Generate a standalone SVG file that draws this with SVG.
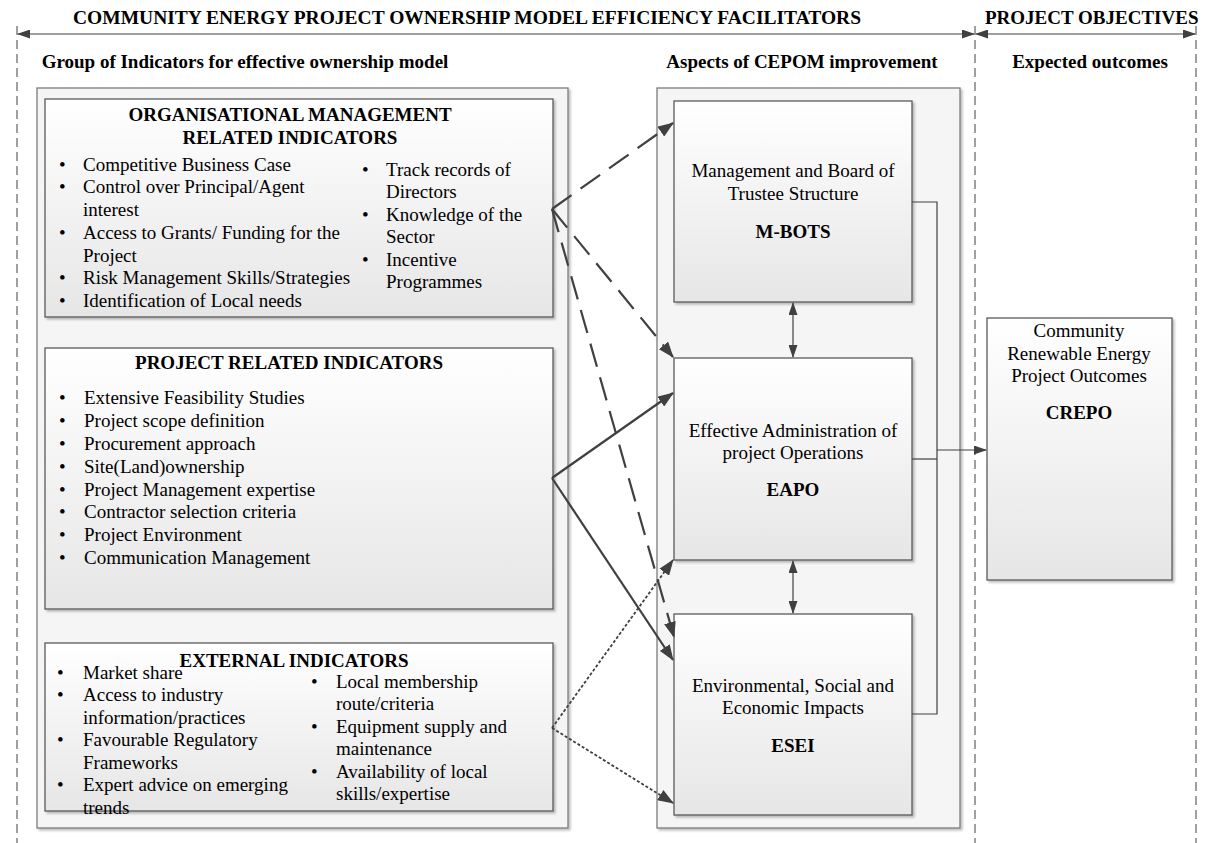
<svg xmlns="http://www.w3.org/2000/svg" width="1212" height="843" viewBox="0 0 1212 843">
<style>
text{font-family:"Liberation Serif","Times New Roman",serif;fill:#000}
.hdr{font-size:19px;font-weight:bold}
.b{font-size:19px;font-weight:bold}
.t{font-size:19px}
.c{text-anchor:middle}
.cont{fill:#f5f5f5;stroke:#7a7a7a;stroke-width:1.3}
.box{fill:url(#g);stroke:#5a5a5a;stroke-width:1.3}
.dv{stroke:#404040;stroke-width:1;stroke-dasharray:9,5;fill:none}
.thin{stroke:#404040;stroke-width:1.2;fill:none}
.dash{stroke:#404040;stroke-width:2.2;stroke-dasharray:24,11;fill:none}
.sol{stroke:#404040;stroke-width:2.2;fill:none}
.dot{stroke:#404040;stroke-width:1.8;stroke-dasharray:3,2;fill:none}
</style>
<defs>
<linearGradient id="g" x1="0" y1="0" x2="0" y2="1">
<stop offset="0" stop-color="#ffffff"/>
<stop offset="1" stop-color="#e6e6e6"/>
</linearGradient>
<filter id="sh" x="-5%" y="-5%" width="112%" height="112%">
<feDropShadow dx="2" dy="2" stdDeviation="1.2" flood-color="#000" flood-opacity="0.25"/>
</filter>
<marker id="ah" markerUnits="userSpaceOnUse" markerWidth="16" markerHeight="12" refX="15" refY="6" orient="auto-start-reverse">
<path d="M0,0 L16,6 L0,12 z" fill="#404040"/>
</marker>
<marker id="as" markerUnits="userSpaceOnUse" markerWidth="13" markerHeight="9" refX="12" refY="4.5" orient="auto-start-reverse">
<path d="M0,0 L13,4.5 L0,9 z" fill="#404040"/>
</marker>
</defs>

<g id="frame">
<line class="dv" x1="17" y1="26" x2="17" y2="843"/>
<line class="dv" x1="975" y1="26" x2="975" y2="843"/>
<line class="dv" x1="1196" y1="26" x2="1196" y2="843"/>
<line class="thin" x1="18" y1="34" x2="974" y2="34" marker-start="url(#as)" marker-end="url(#as)"/>
<line class="thin" x1="976" y1="34" x2="1195" y2="34" marker-start="url(#as)" marker-end="url(#as)"/>
<text class="hdr" x="73" y="24" style="font-size:19.5px">COMMUNITY ENERGY PROJECT OWNERSHIP MODEL EFFICIENCY FACILITATORS</text>
<text class="hdr" x="985" y="24">PROJECT OBJECTIVES</text>
<text class="b c" x="245" y="68">Group of Indicators for effective ownership model</text>
<text class="b c" x="802" y="68">Aspects of CEPOM improvement</text>
<text class="b c" x="1090" y="68">Expected outcomes</text>
</g>

<g id="left-container">
<rect class="cont" x="37" y="88" width="531" height="740" filter="url(#sh)"/>
</g>
<g id="mid-container">
<rect class="cont" x="657" y="88" width="303" height="740" filter="url(#sh)"/>
</g>

<g id="org-indicators">
<rect class="box" x="45" y="99" width="508" height="218" filter="url(#sh)"/>
<text class="b c" x="290" y="121">ORGANISATIONAL MANAGEMENT</text>
<text class="b c" x="290" y="144">RELATED INDICATORS</text>
<g class="t">
<text x="59" y="171">•</text><text x="83" y="171">Competitive Business Case</text>
<text x="59" y="193">•</text><text x="83" y="193">Control over Principal/Agent</text>
<text x="83" y="216">interest</text>
<text x="59" y="239">•</text><text x="83" y="239">Access to Grants/ Funding for the</text>
<text x="83" y="262">Project</text>
<text x="59" y="284">•</text><text x="83" y="284">Risk Management Skills/Strategies</text>
<text x="59" y="307">•</text><text x="83" y="307">Identification of Local needs</text>
<text x="362" y="176">•</text><text x="386" y="176">Track records of</text>
<text x="386" y="198">Directors</text>
<text x="362" y="221">•</text><text x="386" y="221">Knowledge of the</text>
<text x="386" y="243">Sector</text>
<text x="362" y="266">•</text><text x="386" y="266">Incentive</text>
<text x="386" y="288">Programmes</text>
</g>
</g>

<g id="project-indicators">
<rect class="box" x="45" y="348" width="508" height="261" filter="url(#sh)"/>
<text class="b c" x="289" y="369">PROJECT RELATED INDICATORS</text>
<g class="t">
<text x="59" y="404">•</text><text x="84" y="404">Extensive Feasibility Studies</text>
<text x="59" y="427">•</text><text x="84" y="427">Project scope definition</text>
<text x="59" y="450">•</text><text x="84" y="450">Procurement approach</text>
<text x="59" y="473">•</text><text x="84" y="473">Site(Land)ownership</text>
<text x="59" y="496">•</text><text x="84" y="496">Project Management expertise</text>
<text x="59" y="518">•</text><text x="84" y="518">Contractor selection criteria</text>
<text x="59" y="541">•</text><text x="84" y="541">Project Environment</text>
<text x="59" y="564">•</text><text x="84" y="564">Communication Management</text>
</g>
</g>

<g id="external-indicators">
<rect class="box" x="45" y="643" width="508" height="168" filter="url(#sh)"/>
<text class="b c" x="294" y="667">EXTERNAL INDICATORS</text>
<g class="t">
<text x="57" y="679">•</text><text x="83" y="679">Market share</text>
<text x="57" y="701">•</text><text x="83" y="701">Access to industry</text>
<text x="83" y="724">information/practices</text>
<text x="57" y="746">•</text><text x="83" y="746">Favourable Regulatory</text>
<text x="83" y="769">Frameworks</text>
<text x="57" y="791">•</text><text x="83" y="791">Expert advice on emerging</text>
<text x="83" y="814">trends</text>
<text x="311" y="688">•</text><text x="336" y="688">Local membership</text>
<text x="336" y="710">route/criteria</text>
<text x="311" y="733">•</text><text x="336" y="733">Equipment supply and</text>
<text x="336" y="755">maintenance</text>
<text x="311" y="778">•</text><text x="336" y="778">Availability of local</text>
<text x="336" y="800">skills/expertise</text>
</g>
</g>

<g id="mbots">
<rect class="box" x="674" y="101" width="238" height="201" filter="url(#sh)"/>
<text class="t c" x="793" y="177">Management and Board of</text>
<text class="t c" x="793" y="200">Trustee Structure</text>
<text class="b c" x="793" y="238">M-BOTS</text>
</g>
<g id="eapo">
<rect class="box" x="674" y="358" width="238" height="202" filter="url(#sh)"/>
<text class="t c" x="793" y="437">Effective Administration of</text>
<text class="t c" x="793" y="459">project Operations</text>
<text class="b c" x="793" y="496">EAPO</text>
</g>
<g id="esei">
<rect class="box" x="674" y="614" width="238" height="201" filter="url(#sh)"/>
<text class="t c" x="793" y="692">Environmental, Social and</text>
<text class="t c" x="793" y="714">Economic Impacts</text>
<text class="b c" x="793" y="752">ESEI</text>
</g>
<g id="crepo">
<rect class="box" x="987" y="318" width="185" height="262" filter="url(#sh)"/>
<text class="t c" x="1079" y="337">Community</text>
<text class="t c" x="1079" y="360">Renewable Energy</text>
<text class="t c" x="1079" y="382">Project Outcomes</text>
<text class="b c" x="1079" y="419">CREPO</text>
</g>

<g id="connectors">
<line class="dash" x1="552" y1="209" x2="673" y2="123" marker-end="url(#ah)"/>
<line class="dash" x1="552" y1="209" x2="673" y2="357" marker-end="url(#ah)"/>
<line class="dash" x1="552" y1="209" x2="674" y2="637" marker-end="url(#ah)"/>
<line class="sol" x1="552" y1="478" x2="673" y2="393" marker-end="url(#ah)"/>
<line class="sol" x1="552" y1="478" x2="673" y2="660" marker-end="url(#ah)"/>
<line class="dot" x1="552" y1="728" x2="673" y2="560" marker-end="url(#ah)"/>
<line class="dot" x1="552" y1="728" x2="673" y2="803" marker-end="url(#ah)"/>
<line class="thin" x1="793" y1="303" x2="793" y2="357" marker-start="url(#as)" marker-end="url(#as)"/>
<line class="thin" x1="793" y1="561" x2="793" y2="613" marker-start="url(#as)" marker-end="url(#as)"/>
<polyline class="thin" points="912,202 937,202 937,714 912,714"/>
<line class="thin" x1="912" y1="459" x2="937" y2="459"/>
<line class="thin" x1="937" y1="450" x2="986" y2="450" marker-end="url(#as)"/>
</g>
</svg>
